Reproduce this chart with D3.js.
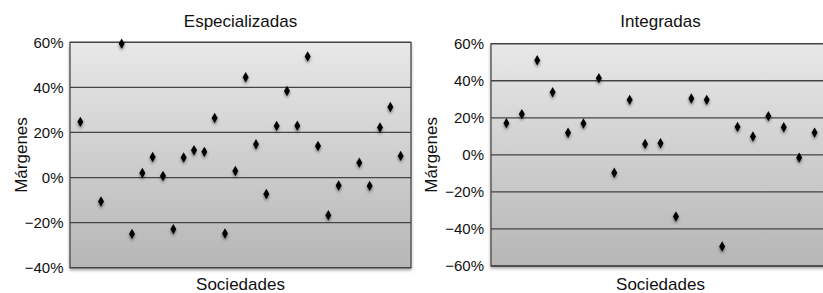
<!DOCTYPE html>
<html><head><meta charset="utf-8">
<script src="https://cdn.jsdelivr.net/npm/d3@7"></script>
<style>body{margin:0;background:#fff}svg{display:block}text{font-family:"Liberation Sans",Arial,Helvetica,sans-serif;fill:#111}</style>
</head><body><svg id="c" width="823" height="293"></svg>
<script>
// Data (percent margins per company; null = no value at that slot)
const especializadas = [24.7, null, -10.6, null, 59.4, -25, 2, 9.1, 0.7, -22.9, 8.9, 12.1, 11.4, 26.4, -24.8, 2.9, 44.5, 14.8, -7.3, 22.9, 38.4, 23, 53.7, 14, -16.7, -3.5, null, 6.6, -3.7, 22.2, 31.3, 9.6];
const integradas = [17.1, 22, 51.1, 33.8, 11.9, 16.9, 41.4, -9.7, 29.7, 5.9, 6.3, -33.3, 30.4, 29.7, -49.5, 15.1, 9.9, 20.9, 14.9, -1.5, 12];
const ticksEsp = [-40, -20, 0, 20, 40, 60];
const ticksInt = [-60, -40, -20, 0, 20, 40, 60];
const titles = ["Especializadas", "Integradas"];
const xLabel = "Sociedades";
const yLabel = "Márgenes";

const svg = d3.select("#c");
const defs = svg.append("defs");
const grad = defs.append("linearGradient").attr("id","bg").attr("x1",0).attr("y1",0).attr("x2",0).attr("y2",1);
grad.append("stop").attr("offset","0%").attr("stop-color","#e8e8e8");
grad.append("stop").attr("offset","100%").attr("stop-color","#b6b6b6");
const f = defs.append("filter").attr("id","sh").attr("x","-100%").attr("y","-100%").attr("width","300%").attr("height","300%");
f.append("feDropShadow").attr("dx",0).attr("dy",2).attr("stdDeviation",1.4).attr("flood-color","#000").attr("flood-opacity",0.45);
const fb = defs.append("filter").attr("id","bsh").attr("x","-5%").attr("y","-5%").attr("width","110%").attr("height","115%");
fb.append("feDropShadow").attr("dx",0).attr("dy",2).attr("stdDeviation",1.5).attr("flood-color","#000").attr("flood-opacity",0.35);

function panel(cfg){
  const {data, ticks, x0, x1, yTop, yBot, n, title, labelX, tickRight} = cfg;
  const x = d3.scaleLinear().domain([0, n]).range([x0, x1]);
  const y = d3.scaleLinear().domain([d3.min(ticks), d3.max(ticks)]).range([yBot, yTop]);
  const g = svg.append("g");
  g.append("rect").attr("x",x0).attr("y",yTop).attr("width",x1-x0).attr("height",yBot-yTop)
    .attr("fill","url(#bg)").attr("stroke","#4a4a4a").attr("stroke-width",1.3).attr("filter","url(#bsh)");
  // gridlines
  g.selectAll("line.grid").data(ticks).join("line")
    .attr("x1",x0).attr("x2",x1).attr("y1",d=>y(d)).attr("y2",d=>y(d))
    .attr("stroke","#444").attr("stroke-width",1.3);
  // y axis labels via d3 axis
  const ax = g.append("g").attr("transform",`translate(${x0},0)`)
    .call(d3.axisLeft(y).tickValues(ticks).tickSize(0).tickPadding(x0 - tickRight).tickFormat(d=>(d<0?"\u2212"+(-d):d)+"%"));
  ax.select(".domain").remove();
  ax.selectAll("text").attr("font-size","15px").attr("fill","#111").attr("font-family",'"Liberation Sans",Arial,sans-serif');
  // titles
  const cx = (x0 + x1)/2;
  g.append("text").attr("x",cx).attr("y",26.5).attr("text-anchor","middle").attr("font-size","17px").text(title);
  g.append("text").attr("x",cx).attr("y",290).attr("text-anchor","middle").attr("font-size","17px").text(xLabel);
  g.append("text").attr("transform",`translate(${labelX},${(yTop+yBot)/2}) rotate(-90)`).attr("text-anchor","middle").attr("font-size","17px").text(yLabel);
  // points
  const pts = data.map((v,i)=>({i:i+1,v})).filter(d=>d.v!==null);
  g.selectAll("path.pt").data(pts).join("path")
    .attr("d","M0,-5.2L3,0L0,5.2L-3,0Z")
    .attr("transform",d=>`translate(${x(d.i)},${y(d.v)})`)
    .attr("fill","#000")
    .attr("filter","url(#sh)");
}

panel({data: especializadas, ticks: ticksEsp, x0:70, x1:411, yTop:42.3, yBot:267.7, n:33, title:titles[0], labelX:27, tickRight:63.5});
panel({data: integradas, ticks: ticksInt, x0:491, x1:830, yTop:43.7, yBot:266, n:22, title:titles[1], labelX:437, tickRight:484});
</script></body></html>
